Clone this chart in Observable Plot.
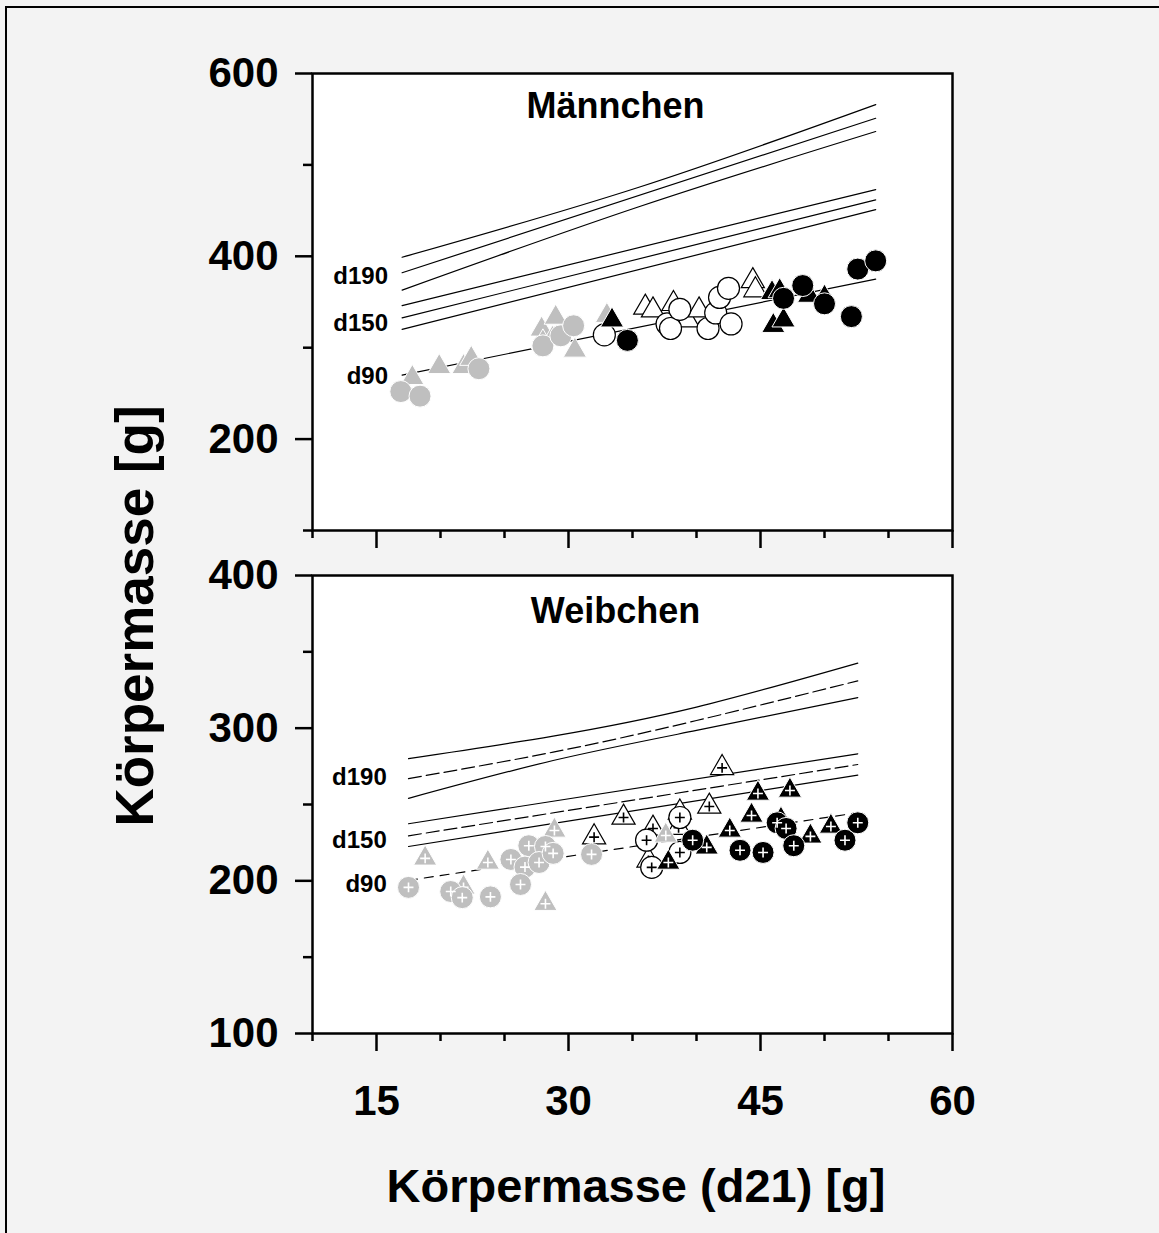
<!DOCTYPE html>
<html><head><meta charset="utf-8">
<script src="https://cdn.jsdelivr.net/npm/d3@7"></script>
<script src="https://cdn.jsdelivr.net/npm/@observablehq/plot@0.6"></script>
<style>
html,body{margin:0;padding:0;}
body{background:#f3f3f3;width:1159px;height:1233px;position:relative;overflow:hidden;font-family:"Liberation Sans",Arial,sans-serif;}
#frame{position:absolute;left:5px;top:6px;width:1200px;height:1300px;border-left:2.5px solid #000;border-top:2.5px solid #000;}
#top,#bottom{position:absolute;left:0;}
#top{top:0;} #bottom{top:555px;}
.title{position:absolute;font-weight:bold;line-height:1;white-space:nowrap;color:#000;}
#xt{font-size:47px;left:636px;top:1162px;transform:translateX(-50%);}
#yt{font-size:53px;left:134px;top:616px;transform:translate(-50%,-50%) rotate(-90deg);}
</style></head><body>
<div id="frame"></div>
<div id="top"></div>
<div id="bottom"></div>
<div class="title" id="xt">Körpermasse (d21) [g]</div>
<div class="title" id="yt">Körpermasse [g]</div>
<script>
// ---- axis ticks ----
const xTicksMajor = [15, 30, 45, 60];
const xTicksMinor = [10, 20, 25, 35, 40, 50, 55];
const maleYMajor = [200, 400, 600];
const maleYMinor = [100, 300, 500];
const femaleYMajor = [100, 200, 300, 400];
const femaleYMinor = [150, 250, 350];

// ---- Männchen: [Körpermasse d21, Körpermasse] ----
const maleGrayCircles = [[16.9,252],[18.4,247],[23.0,277],[28.0,302],[29.4,313],[30.4,324]];
const maleGrayTriangles = [[17.8,267],[19.9,279],[21.8,279],[22.4,288],[27.9,320],[29.0,333],[28.75,310],[30.5,297],[28.0,306],[33.0,335]];
const maleWhiteCircles = [[32.8,314],[37.7,326],[37.97,321],[38.7,342],[40.9,321],[41.5,338],[41.8,355],[42.5,365],[42.7,326]];
const maleWhiteTriangles = [[36.0,344],[36.6,341],[38.2,348],[39.3,330],[40.2,341],[44.4,373],[44.6,363]];
const maleBlackCircles = [[34.6,308],[46.8,354],[48.3,368],[50.0,348],[52.1,334],[52.6,386],[54.0,395]];
const maleBlackTriangles = [[33.4,330],[45.9,360],[46.5,362],[46.0,324],[46.8,330],[48.8,357],[50.0,355]];

// ---- Weibchen ----
const femaleGrayCircles = [[17.5,195.7],[20.8,193],[21.7,189],[23.9,189.5],[25.5,214],[26.9,223],[28.2,222.5],[26.6,209],[27.7,212],[28.8,218],[26.25,197.6],[31.8,217.3]];
const femaleGrayTriangles = [[18.8,214.7],[21.8,195.7],[23.7,212],[28.9,233],[28.2,185],[37.6,229.7]];
const femaleWhiteCircles = [[36.1,226.6],[38.7,241.5],[38.7,218.6],[36.5,208.8]];
const femaleWhiteTriangles = [[32.0,228.6],[34.3,241.5],[36.6,234.3],[38.7,244.8],[38.6,234.8],[36.25,213.4],[41.0,248.7],[42.0,274]];
const femaleBlackCircles = [[39.7,226.6],[43.4,220],[45.2,218.6],[46.3,238],[47.0,234.3],[47.6,223],[51.6,226.6],[52.6,238]];
const femaleBlackTriangles = [[37.8,212],[40.8,221.9],[42.6,233],[44.3,242.8],[44.8,257.2],[47.3,259.2],[46.6,240.2],[48.9,229.1],[50.5,235.6]];

// ---- prediction curves: [day, role, x, y] ----
const maleCurves = [
  ["d190","upper",17,399],["d190","upper",35.5,475.6],["d190","upper",54,566],
  ["d190","mean",17,382],["d190","mean",54,551],
  ["d190","lower",17,363],["d190","lower",35.5,454.2],["d190","lower",54,536.5],
  ["d150","upper",17,346],["d150","upper",54,473],
  ["d150","mean",17,332.6],["d150","mean",54,461.8],
  ["d150","lower",17,320],["d150","lower",54,451],
  ["d90","mean",17,270],["d90","mean",54,375]
];
const femaleCurves = [
  ["d190","upper",17.5,280],["d190","upper",28.8,294.8],["d190","upper",40,313.8],["d190","upper",52.6,342.6],
  ["d190","mean",17.5,267],["d190","mean",28.8,284.3],["d190","mean",40,305],["d190","mean",52.6,331],
  ["d190","lower",17.5,254],["d190","lower",28.8,278.8],["d190","lower",40,298.5],["d190","lower",52.6,320],
  ["d150","upper",17.5,237.4],["d150","upper",52.6,283.2],
  ["d150","mean",17.5,229.5],["d150","mean",52.6,276.2],
  ["d150","lower",17.5,222.5],["d150","lower",52.6,269.2],
  ["d90","mean",17.5,200.3],["d90","mean",52.6,244.6]
];

// ---- curve labels: [text, x, y] ----
const maleLabels = [["d190",15.9,378],["d150",15.9,326.5],["d90",15.9,268.5]];
const femaleLabels = [["d190",15.8,267.7],["d150",15.8,226.5],["d90",15.8,197.6]];

const GRAY = "#bfbfbf";

function pointMarks(data, shape, fillC, strokeC, plusC) {
  const r = shape === "circle" ? 11 : 8.6;
  const m = [Plot.dot(data, {x: d => d[0], y: d => d[1], symbol: shape, r, fill: fillC, stroke: strokeC, strokeWidth: strokeC === "black" ? 1.2 : 1})];
  if (plusC) m.push(Plot.dot(data, {x: d => d[0], y: d => d[1], symbol: "plus", r: 3.3, stroke: plusC, strokeWidth: 1.6}));
  return m;
}

function panel({yDomain, yMajor, yMinor, groups, curves, labels, title, titleDy, height, marginTop, marginBottom, showXLabels, female}) {
  const P = !!female;
  const key = d => d[0] + d[1];
  const lineOpts = {x: d => d[2], y: d => d[3], z: key, stroke: "black", strokeWidth: 1.2, curve: "natural"};
  const solid = curves.filter(d => !(P && d[1] === "mean"));
  const dashed = curves.filter(d => P && d[1] === "mean" && d[0] !== "d90");
  const dotted = curves.filter(d => P && d[1] === "mean" && d[0] === "d90");
  const marks = [
    Plot.frame({fill: "white", stroke: "none"}),
    Plot.line(solid, lineOpts),
    Plot.line(dashed, {...lineOpts, strokeDasharray: "13,5"}),
    Plot.line(dotted, {...lineOpts, strokeDasharray: "9,7"}),
    Plot.text(labels, {x: d => d[1], y: d => d[2], text: d => d[0], textAnchor: "end", fontSize: 24, fontWeight: "bold"}),
    Plot.text([title], {frameAnchor: "top", dx: -17, dy: titleDy, text: d => d, fontSize: 36, fontWeight: "bold", lineAnchor: "middle"})
  ];
  const pc = P;
  marks.push(...pointMarks(groups.whiteTriangles, "triangle", "white", "black", pc ? "black" : null));
  marks.push(...pointMarks(groups.whiteCircles, "circle", "white", "black", pc ? "black" : null));
  marks.push(...pointMarks(groups.grayTriangles, "triangle", GRAY, "white", pc ? "white" : null));
  marks.push(...pointMarks(groups.grayCircles, "circle", GRAY, "white", pc ? "white" : null));
  marks.push(...pointMarks(groups.blackTriangles, "triangle", "black", "white", pc ? "white" : null));
  marks.push(...pointMarks(groups.blackCircles, "circle", "black", "white", pc ? "white" : null));
  marks.push(
    Plot.axisY(yMajor, {tickSize: 17, tickPadding: 17, fontSize: 42, fontWeight: "bold", strokeWidth: 2.5, label: null, tickFormat: d => d}),
    Plot.axisY(yMinor, {tickSize: 9, strokeWidth: 2.5, label: null, tickFormat: () => ""}),
    Plot.axisX(xTicksMajor, {tickSize: 18, tickPadding: 34, fontSize: 42, fontWeight: "bold", strokeWidth: 2.5, label: null, tickFormat: showXLabels ? (d => d) : (() => "")}),
    Plot.axisX(xTicksMinor, {tickSize: 8, strokeWidth: 2.5, label: null, tickFormat: () => ""}),
    Plot.frame({stroke: "black", strokeWidth: 2.5})
  );
  return Plot.plot({
    width: 1000, height,
    marginLeft: 312, marginRight: 48, marginTop, marginBottom,
    x: {domain: [10, 60]},
    y: {domain: yDomain},
    style: {background: "transparent", fontFamily: "'Liberation Sans', Arial, sans-serif", color: "black", overflow: "visible"},
    marks
  });
}

document.getElementById("top").append(panel({
  yDomain: [100, 600], yMajor: maleYMajor, yMinor: maleYMinor,
  groups: {grayCircles: maleGrayCircles, grayTriangles: maleGrayTriangles, whiteCircles: maleWhiteCircles,
           whiteTriangles: maleWhiteTriangles, blackCircles: maleBlackCircles, blackTriangles: maleBlackTriangles},
  curves: maleCurves, labels: maleLabels, title: "Männchen", titleDy: 33,
  height: 555, marginTop: 73, marginBottom: 25, showXLabels: false, female: false
}));
document.getElementById("bottom").append(panel({
  yDomain: [100, 400], yMajor: femaleYMajor, yMinor: femaleYMinor,
  groups: {grayCircles: femaleGrayCircles, grayTriangles: femaleGrayTriangles, whiteCircles: femaleWhiteCircles,
           whiteTriangles: femaleWhiteTriangles, blackCircles: femaleBlackCircles, blackTriangles: femaleBlackTriangles},
  curves: femaleCurves, labels: femaleLabels, title: "Weibchen", titleDy: 36,
  height: 568, marginTop: 20, marginBottom: 90, showXLabels: true, female: true
}));
</script>
</body></html>
